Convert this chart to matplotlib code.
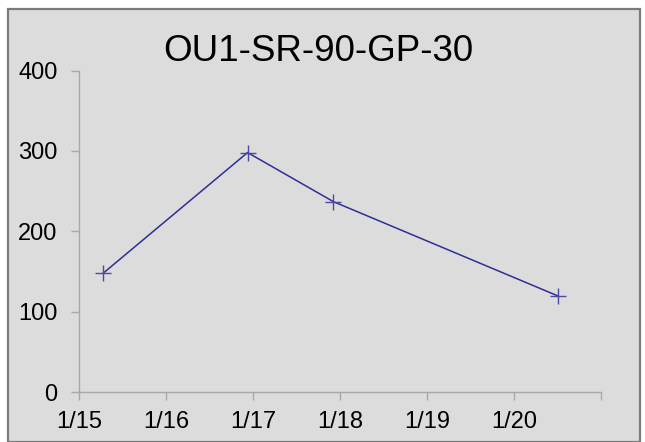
import matplotlib
matplotlib.use("Agg")
import matplotlib.pyplot as plt
from matplotlib.patches import Rectangle
from datetime import datetime

# data
times = [datetime(2024, 1, 15, 6, 40), datetime(2024, 1, 16, 22, 30),
         datetime(2024, 1, 17, 22, 10), datetime(2024, 1, 20, 12, 0)]
values = [148, 298, 237, 120]
tick_days = [15, 16, 17, 18, 19, 20, 21]
tick_labels = ["1/15", "1/16", "1/17", "1/18", "1/19", "1/20", ""]

plt.rcParams['font.family'] = ['Liberation Sans', 'DejaVu Sans']

fig = plt.figure(figsize=(6.45, 4.42), dpi=100)
W, H = 645, 442

# grey panel behind the chart
fig.patches.append(Rectangle((8 / W, 0), (640 - 8) / W, 1 - 9 / H,
                             transform=fig.transFigure, facecolor="#dcdcdc",
                             edgecolor="#7a7a7a", linewidth=1.6, zorder=0))

ax = fig.add_axes([79 / W, 1 - 392.3 / H, (601 - 79) / W, (392.3 - 70.5) / H])
ax.set_facecolor("none")
ax.set_zorder(2)

ax.plot(times, values, color="#2e2e96", linewidth=1.1, marker="+",
        markersize=11, markeredgewidth=1.0, markeredgecolor="#4a4aa0",
        clip_on=False)

ax.set_ylim(0, 400)
ax.set_yticks([0, 100, 200, 300, 400])
ticks = [datetime(2024, 1, d) for d in tick_days]
ax.set_xlim(ticks[0], ticks[-1])
ax.set_xticks(ticks)
ax.set_xticklabels(tick_labels)

for s in ["top", "right"]:
    ax.spines[s].set_visible(False)
for s in ["left", "bottom"]:
    ax.spines[s].set_color("#a8a8a8")
    ax.spines[s].set_linewidth(1.0)

ax.tick_params(axis="both", colors="#a8a8a8", labelcolor="black",
               labelsize=17, length=5.5, width=1.0)
ax.tick_params(axis="y", pad=10)
ax.tick_params(axis="x", pad=8)

fig.text(318 / W, 1 - 61 / H, "OU1-SR-90-GP-30", ha="center", va="baseline",
         fontsize=26.5, zorder=3)

fig.savefig("out.png", dpi=100)
